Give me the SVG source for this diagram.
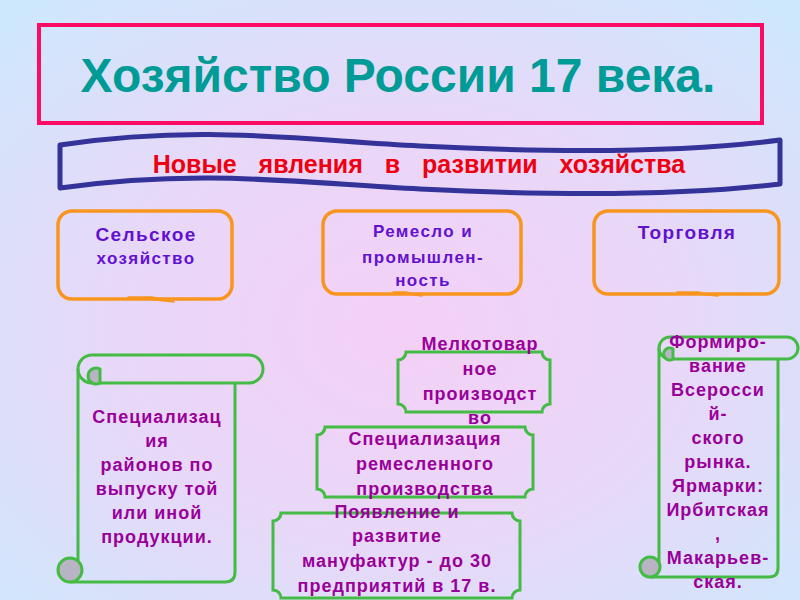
<svg xmlns="http://www.w3.org/2000/svg" width="800" height="600" viewBox="0 0 800 600">
<defs>
<radialGradient id="bg" cx="50%" cy="55%" r="72%">
<stop offset="0" stop-color="#f4d0f6"/>
<stop offset="0.5" stop-color="#e8d8f8"/>
<stop offset="1" stop-color="#cde8fc"/>
</radialGradient>
<style>
.t{font-family:"Liberation Sans",Arial,sans-serif;font-weight:bold;text-anchor:middle}
.call{fill:none;stroke:#f7951e;stroke-width:3.5}
.tail{fill:#f7951e;stroke:#f7951e;stroke-width:1.5;stroke-linejoin:round}
.ct{fill:#6311d0;letter-spacing:1.4px}
.grn{fill:none;stroke:#44bb44;stroke-width:3}
.gt{fill:#990099;font-size:18px;letter-spacing:1px}
.curl{fill:#b9b4c4;stroke:#44bb44;stroke-width:3}
</style>
</defs>
<rect width="800" height="600" fill="url(#bg)"/>

<g id="title">
<rect x="39" y="25" width="723" height="98" fill="none" stroke="#ff0a64" stroke-width="4"/>
<text class="t" x="398" y="92" font-size="48" fill="#009b96">Хозяйство России 17 века.</text>
</g>

<g id="banner">
<path d="M60 145 C200 124 300 140 420 146 C560 153 680 153 780 140 L780 184 C680 196 560 196 420 189 C300 183 200 168 60 188 Z" fill="none" stroke="#333399" stroke-width="5" stroke-linejoin="round"/>
<text class="t" x="419" y="173" font-size="25" fill="#ee0011" word-spacing="15">Новые явления в развитии хозяйства</text>
</g>

<g id="agri">
<rect class="call" x="58" y="211" width="174" height="88" rx="14"/>
<path class="tail" d="M128 297 L174 302 L152 297 Z"/>
<text class="t ct" x="146" y="241" font-size="19">Сельское</text>
<text class="t ct" x="146" y="264" font-size="17">хозяйство</text>
</g>

<g id="craft">
<rect class="call" x="323" y="211" width="198" height="83" rx="14"/>
<path class="tail" d="M393 292 L422 296 L406 292 Z"/>
<text class="t ct" x="423" y="237" font-size="17">Ремесло и</text>
<text class="t ct" x="423" y="263" font-size="17">промышлен-</text>
<text class="t ct" x="423" y="286" font-size="17">ность</text>
</g>

<g id="trade">
<rect class="call" x="594" y="211" width="185" height="83" rx="14"/>
<path class="tail" d="M677 292 L718 296 L698 292 Z"/>
<text class="t ct" x="687" y="239" font-size="19">Торговля</text>
</g>

<g id="scroll1">
<rect class="grn" x="78" y="355" width="185" height="28" rx="14"/>
<path class="grn" d="M78 369 L78 568"/>
<path class="grn" d="M235 383 L235 572 Q235 582 225 582 L70 582"/>
<path class="curl" d="M100 369 A8 8 0 1 0 100 383 L100 376 Z"/>
<circle class="curl" cx="70" cy="570" r="12"/>
<text class="t gt" x="157" y="423">Специализац</text>
<text class="t gt" x="157" y="447">ия</text>
<text class="t gt" x="157" y="471">районов по</text>
<text class="t gt" x="157" y="495">выпуску той</text>
<text class="t gt" x="157" y="519">или иной</text>
<text class="t gt" x="157" y="543">продукции.</text>
</g>

<g id="scroll2">
<rect class="grn" x="659" y="337" width="139" height="22" rx="11"/>
<path class="grn" d="M659 348 L659 565"/>
<path class="grn" d="M778 359 L778 568 Q778 577 769 577 L650 577"/>
<path class="curl" d="M673 349 A6 6 0 1 0 673 359 L673 354 Z"/>
<circle class="curl" cx="650" cy="567" r="10"/>
<text class="t gt" x="718" y="348">Формиро-</text>
<text class="t gt" x="718" y="372">вание</text>
<text class="t gt" x="718" y="396">Всеросси</text>
<text class="t gt" x="718" y="420">й-</text>
<text class="t gt" x="718" y="444">ского</text>
<text class="t gt" x="718" y="468">рынка.</text>
<text class="t gt" x="718" y="492">Ярмарки:</text>
<text class="t gt" x="718" y="516">Ирбитская</text>
<text class="t gt" x="718" y="540">,</text>
<text class="t gt" x="718" y="564">Макарьев-</text>
<text class="t gt" x="718" y="588">ская.</text>
</g>

<g id="small">
<path class="grn" d="M406 352 L542 352 A8 8 0 0 0 550 360 L550 404 A8 8 0 0 0 542 412 L406 412 A8 8 0 0 0 398 404 L398 360 A8 8 0 0 0 406 352 Z"/>
<text class="t gt" x="480" y="350">Мелкотовар</text>
<text class="t gt" x="480" y="375">ное</text>
<text class="t gt" x="480" y="400">производст</text>
<text class="t gt" x="480" y="424">во</text>
</g>

<g id="spec">
<path class="grn" d="M325 427 L525 427 A8 8 0 0 0 533 435 L533 489 A8 8 0 0 0 525 497 L325 497 A8 8 0 0 0 317 489 L317 435 A8 8 0 0 0 325 427 Z"/>
<text class="t gt" x="425" y="445">Специализация</text>
<text class="t gt" x="425" y="470">ремесленного</text>
<text class="t gt" x="425" y="495">производства</text>
</g>

<g id="manuf">
<path class="grn" d="M281 513 L512 513 A8 8 0 0 0 520 521 L520 590 A8 8 0 0 0 512 598 L281 598 A8 8 0 0 0 273 590 L273 521 A8 8 0 0 0 281 513 Z"/>
<text class="t gt" x="397" y="518">Появление и</text>
<text class="t gt" x="397" y="542">развитие</text>
<text class="t gt" x="397" y="567">мануфактур - до 30</text>
<text class="t gt" x="397" y="592">предприятий в 17 в.</text>
</g>
<g id="connectors"/>
</svg>
